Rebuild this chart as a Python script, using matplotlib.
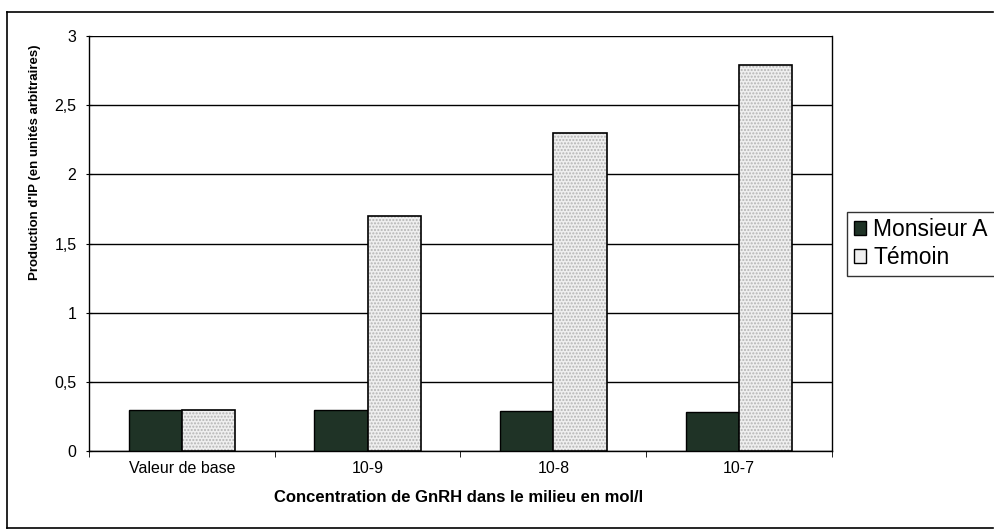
import matplotlib
matplotlib.use('Agg')
import matplotlib.pyplot as plt
import numpy as np
from matplotlib.lines import Line2D

plt.rcParams['font.family'] = ['Liberation Sans', 'DejaVu Sans']

# ==[1] Data
categories = ['Valeur de base', '10-9', '10-8', '10-7']
series_names = ['Monsieur A', 'Témoin']
monsieur_a = [0.30, 0.30, 0.29, 0.28]
temoin = [0.30, 1.70, 2.30, 2.79]
yticks = [0, 0.5, 1, 1.5, 2, 2.5, 3]
ytick_labels = ['0', '0,5', '1', '1,5', '2', '2,5', '3']

# ==[2] Figure and axes
fig = plt.figure(figsize=(9.94, 5.29), dpi=100)
ax = fig.add_axes([0.0895, 0.1474, 0.7475, 0.7845])

x = np.arange(len(categories))
w = 0.287

ax.bar(x - w / 2, monsieur_a, w, color='#1f3326', edgecolor='black', linewidth=1, zorder=3)
# stippled grey bars: dotted fill then black outline
ax.bar(x + w / 2, temoin, w, color='#efefef', edgecolor='#b4b4b4', hatch='.....', linewidth=0, zorder=3)
ax.bar(x + w / 2, temoin, w, fill=False, edgecolor='black', linewidth=1.2, zorder=4)

ax.set_xlim(-0.5, len(categories) - 0.5)
ax.set_ylim(0, 3)
ax.set_yticks(yticks)
ax.set_yticklabels(ytick_labels, fontsize=11.5)
ax.yaxis.grid(True, color='black', linewidth=1)
ax.set_axisbelow(True)

ax.set_xticks(x)
ax.set_xticklabels(categories, fontsize=11.5)
ax.tick_params(axis='x', length=0, pad=7)
ax.set_xticks(np.arange(len(categories) + 1) - 0.5, minor=True)
ax.tick_params(axis='x', which='minor', length=4, direction='out')
ax.tick_params(axis='y', length=4, direction='inout', pad=7)

for s in ax.spines.values():
    s.set_color('black')
    s.set_linewidth(1)
ax.spines['top'].set_visible(False)

ax.set_ylabel("Production d'IP (en unités arbitraires)", fontsize=9.5, fontweight='bold')
ax.yaxis.set_label_coords(-0.064, 0.696)
ax.set_xlabel('Concentration de GnRH dans le milieu en mol/l', fontsize=12, fontweight='bold')
ax.xaxis.set_label_coords(0.497, -0.095)

# ==[3] Legend
handles = [
    plt.Rectangle((0, 0), 1, 1, facecolor='#1f3326', edgecolor='black', linewidth=1),
    plt.Rectangle((0, 0), 1, 1, facecolor='#efefef', edgecolor='black', linewidth=1),
]
leg = fig.legend(handles, series_names, loc='upper left', bbox_to_anchor=(0.852, 0.600),
                 fontsize=16.5, frameon=True, fancybox=False, handlelength=0.55, handleheight=0.55,
                 handletextpad=0.3, borderpad=0.3, labelspacing=0.2, borderaxespad=0)
leg.get_frame().set_edgecolor('black')
leg.get_frame().set_linewidth(1)

# ==[4] Outer chart border
for xs, ys in [([0.007, 0.007], [0.002, 0.977]), ([0.007, 0.999], [0.977, 0.977]),
               ([0.007, 0.999], [0.002, 0.002])]:
    fig.add_artist(Line2D(xs, ys, transform=fig.transFigure, color='black', linewidth=1.2))

fig.savefig('out.png', dpi=100)
